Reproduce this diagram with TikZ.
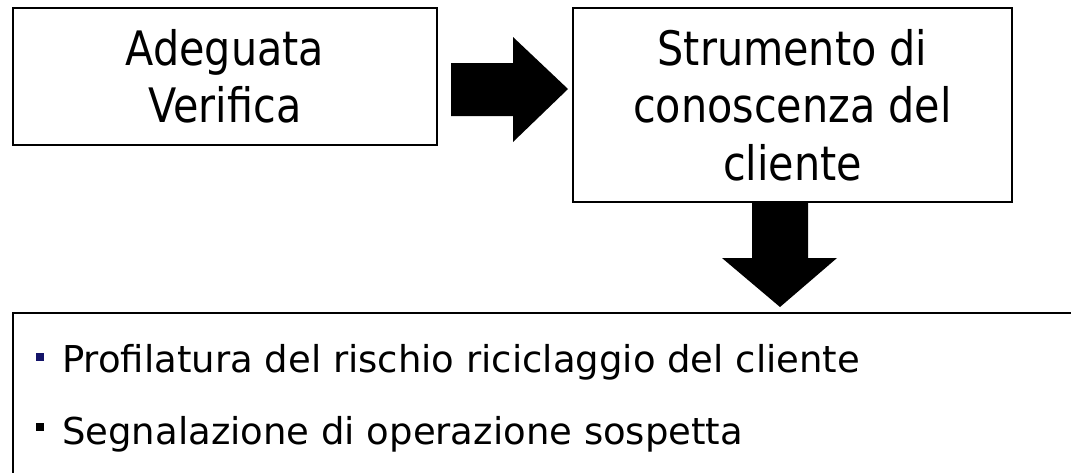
\documentclass[tikz,border=0pt]{standalone}
\usepackage{fontspec}
\setmainfont{DejaVu Sans}
\newfontfamily\narrowsans[FakeStretch=0.87]{DejaVu Sans}
\definecolor{bulletnavy}{RGB}{20,20,105}
\begin{document}
\begin{tikzpicture}[x=1pt,y=-1pt]
\tikzset{
  box/.style={draw=black, line width=1.6pt, inner sep=0pt, align=center},
  boxfont/.style={font=\narrowsans\fontsize{47.5}{57.5}\selectfont},
  itemfont/.style={font=\fontsize{37}{44}\selectfont},
  blockarrow/.style={fill=black},
  sq/.style={fill=#1}
}
\useasboundingbox (0,0) rectangle (1071,472);
\node[box, boxfont, minimum width=424pt, minimum height=137pt] (b1) at (225,76.5) {Adeguata\\Verifica};
\node[box, boxfont, minimum width=439pt, minimum height=194pt] (b2) at (792.5,105) {Strumento di\\conoscenza del\\cliente};
% right block arrow between b1 and b2
\fill[blockarrow] (451,63) -- (513,63) -- (513,37) -- (568,89) -- (513,142) -- (513,116) -- (451,116) -- cycle;
% down block arrow from b2 to the list box
\fill[blockarrow] (752,202) -- (808,202) -- (808,258) -- (837,258) -- (780,307) -- (722,258) -- (752,258) -- cycle;
% list box (clipped by the page at right and bottom)
\draw[line width=1.6pt] (13,480) -- (13,313) -- (1080,313);
\fill[sq=bulletnavy] (35.5,353) rectangle (43.5,361);
\fill[sq=black] (35.5,423) rectangle (43.5,431);
\node[itemfont, anchor=base west, inner sep=0pt] (i1) at (62,372) {Profilatura del rischio riciclaggio del cliente};
\node[itemfont, anchor=base west, inner sep=0pt] (i2) at (62,444) {Segnalazione di operazione sospetta};
\end{tikzpicture}
\end{document}
